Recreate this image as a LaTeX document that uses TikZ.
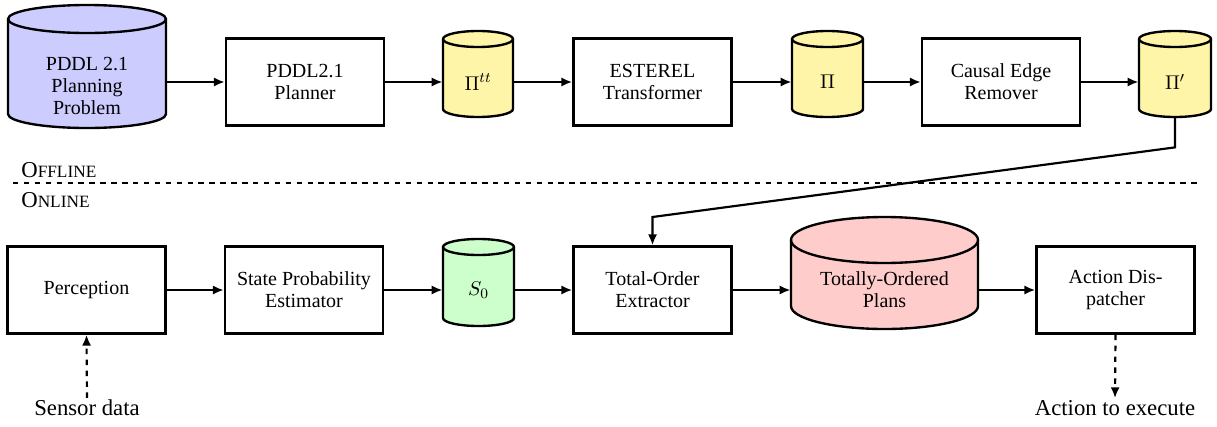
\documentclass[tikz,border=0pt]{standalone}
\usepackage{fontspec}
\setmainfont{Liberation Serif}
\usetikzlibrary{arrows.meta}
\definecolor{planyellow}{RGB}{255,245,168}
\def\pxu{0.55pt}
\tikzset{
  stagebox/.style={draw, line width=1.3pt, minimum width=158*\pxu, minimum height=87*\pxu, align=center, inner sep=2pt, font=\fontsize{11}{12}\selectfont},
  cylst/.style={line width=1.3pt},
  arr/.style={line width=1.2pt, -{Latex[length=6pt,width=5pt]}},
  darr/.style={arr, dashed},
  lbl/.style={align=center, inner sep=1pt, font=\fontsize{11}{12}\selectfont},
  iolbl/.style={align=center, inner sep=1pt, font=\fontsize{12.5}{14}\selectfont}
}
\newcommand\dbcyl[7]{%
  \pgfmathsetmacro\myL{#2-#5/2}\pgfmathsetmacro\myR{#2+#5/2}%
  \pgfmathsetmacro\myT{426-#3-#6}\pgfmathsetmacro\myB{426-#4+#6}%
  \pgfmathsetmacro\myRX{#5/2}%
  \pgfmathsetmacro\myM{426-(#3+#4)/2}\pgfmathsetmacro\myH{#4-#3}%
  \filldraw[cylst, fill=#7] (\myL,\myT) -- (\myL,\myB) arc[start angle=180,end angle=360,x radius=\myRX,y radius=#6] -- (\myR,\myT) arc[start angle=0,end angle=180,x radius=\myRX,y radius=#6] -- cycle;
  \draw[cylst] (\myL,\myT) arc[start angle=180,end angle=360,x radius=\myRX,y radius=#6];
  \node[minimum width=#5*\pxu, minimum height=\myH*\pxu, inner sep=0pt] (#1) at (#2,\myM) {};
}
\begin{document}
\begin{tikzpicture}[x=0.55pt,y=0.55pt]
\useasboundingbox (0,0) rectangle (1217,426);
% top row
\dbcyl{pddl}{87}{5}{128}{158}{14}{blue!20}
\node[lbl] (pddlt) at (87,426-86) {PDDL 2.1\\Planning\\Problem};
\node[stagebox] (plan) at (305,426-82) {PDDL2.1\\Planner};
\dbcyl{pitt}{478}{31}{117}{70}{8}{planyellow}
\node[lbl] (pittt) at (478,426-82) {$\Pi^{tt}$};
\node[stagebox] (est) at (652.5,426-82) {ESTEREL\\Transformer};
\dbcyl{pi}{827.5}{31}{117}{71}{8}{planyellow}
\node[lbl] (pit) at (827.5,426-82) {$\Pi$};
\node[stagebox] (cer) at (1001,426-82) {Causal Edge\\Remover};
\dbcyl{pip}{1175}{31}{117}{72}{8}{planyellow}
\node[lbl] (pipt) at (1175,426-82) {$\Pi'$};
% bottom row
\node[stagebox] (perc) at (86.5,426-290) {Perception};
\node[stagebox] (spe) at (304,426-290) {State Probability\\Estimator};
\dbcyl{s0}{478.5}{239}{326}{71}{8}{green!20}
\node[lbl] (s0t) at (478.5,426-290) {$S_0$};
\node[stagebox] (toe) at (652.5,426-290) {Total-Order\\Extractor};
\dbcyl{top}{884.5}{217}{329}{187}{23}{red!20}
\node[lbl] (topt) at (884.5,426-290) {Totally-Ordered\\Plans};
\node[stagebox] (disp) at (1115.5,426-290) {Action Dis-\\patcher};
% separator
\coordinate (sepl) at (13,426-183);
\coordinate (sepr) at (1197,426-183);
\draw[line width=1.2pt, dashed] (sepl) -- (sepr);
\node[anchor=west, inner sep=0pt, font=\fontsize{12.5}{14}\selectfont] (off) at (21,426-170) {O{\fontsize{9.5}{11}\selectfont FFLINE}};
\node[anchor=west, inner sep=0pt, font=\fontsize{12.5}{14}\selectfont] (on) at (21,426-200) {O{\fontsize{9.5}{11}\selectfont NLINE}};
% io
\node[iolbl] (sens) at (87,426-408) {Sensor data};
\node[iolbl] (act) at (1115,426-408) {Action to execute};
% connectors
\draw[arr] (pddl.east |- plan.west) -- (plan.west);
\draw[arr] (plan.east) -- (plan.east -| pitt.west);
\draw[arr] (pitt.east |- est.west) -- (est.west);
\draw[arr] (est.east) -- (est.east -| pi.west);
\draw[arr] (pi.east |- cer.west) -- (cer.west);
\draw[arr] (cer.east) -- (cer.east -| pip.west);
\coordinate (bend) at (652.5,426-217);
\draw[arr] (pip.south) -- ++(0,-30) -- (toe.north |- bend) -- (toe.north);
\draw[arr] (perc.east) -- (spe.west);
\draw[arr] (spe.east) -- (spe.east -| s0.west);
\draw[arr] (s0.east |- toe.west) -- (toe.west);
\draw[arr] (toe.east) -- (toe.east -| top.west);
\draw[arr] (top.east |- disp.west) -- (disp.west);
\draw[darr] (sens.north) -- (perc.south);
\draw[darr] (disp.south) -- (act.north);
\end{tikzpicture}
\end{document}
